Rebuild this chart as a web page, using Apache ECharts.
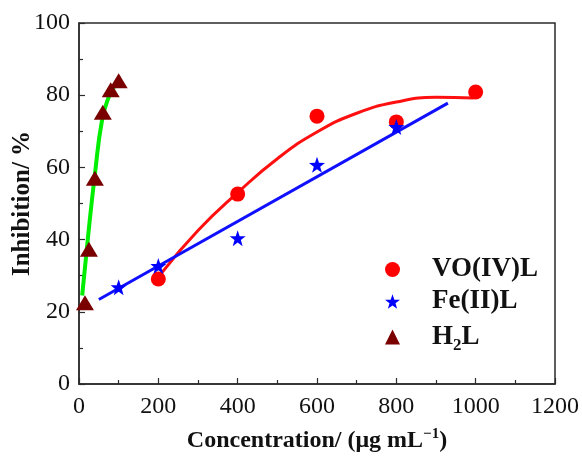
<!DOCTYPE html>
<html>
<head>
<meta charset="utf-8">
<script src="https://cdn.jsdelivr.net/npm/echarts@6/dist/echarts.min.js"></script>
<style>
  html, body { margin: 0; padding: 0; background: #fff; }
  #chart { width: 582px; height: 458px; }
</style>
</head>
<body>
<div id="chart"></div>
<script>
// Measured inhibition (%) versus concentration (µg/mL)
var voConc = [200, 400, 600, 800, 1000];
var voInhib = [29.1, 52.6, 74.2, 72.6, 80.9];

var feConc = [100, 200, 400, 600, 800];
var feInhib = [26.8, 32.7, 40.4, 60.7, 71.2];

var h2lConc = [15, 25, 40, 60, 80, 100];
var h2lInhib = [22.5, 37.3, 57, 75.3, 81.5, 84];

// Fitted trend curves
var voFitX = [208, 300, 400, 500, 600, 700, 800, 900, 995];
var voFitY = [30.7, 42.5, 53, 62.4, 69.8, 75, 78.1, 79.4, 79.2];

var feFitX = [50, 930];
var feFitY = [23.4, 77.8];

var h2lFitX = [8, 23, 40, 58, 75, 90, 103];
var h2lFitY = [24.5, 41, 58, 73, 79.5, 82.5, 83.8];

// Axis ticks
var xTicks = [0, 200, 400, 600, 800, 1000, 1200];
var yTicks = [0, 20, 40, 60, 80, 100];

function pairs(xs, ys) {
  return xs.map(function (x, i) { return [x, ys[i]]; });
}

var STAR = 'path://M50,0 L61.8,33.8 L97.6,34.5 L69,56.2 L79.4,90.5 L50,70 L20.6,90.5 L31,56.2 L2.4,34.5 L38.2,33.8 Z';
var SERIF = '"Liberation Serif", "Times New Roman", serif';
var AXIS_COLOR = '#2b2b2b';

var chart = echarts.init(document.getElementById('chart'), null, { renderer: 'canvas' });

var axisCommon = {
  axisLine: { show: true, lineStyle: { color: AXIS_COLOR, width: 1.5 } },
  axisTick: { show: true, inside: true, length: 6, lineStyle: { color: AXIS_COLOR, width: 1.2 } },
  minorTick: { show: true, splitNumber: 2, length: 4, lineStyle: { color: AXIS_COLOR, width: 1.2 } },
  splitLine: { show: false },
  axisLabel: {
    color: '#111', fontFamily: SERIF, fontSize: 24,
    formatter: function (v) { return String(v); }
  }
};

chart.setOption({
  animation: false,
  backgroundColor: '#ffffff',
  grid: {
    left: 79, right: 27, top: 23, bottom: 74,
    outerBoundsMode: 'none',
    containLabel: false,
    show: true, borderColor: AXIS_COLOR, borderWidth: 1.5, backgroundColor: 'transparent'
  },
  xAxis: Object.assign({}, axisCommon, {
    type: 'value',
    min: xTicks[0], max: xTicks[xTicks.length - 1], interval: xTicks[1] - xTicks[0],
    name: 'Concentration/ (μg mL{sup|−1})',
    nameLocation: 'middle',
    nameMoveOverlap: false,
    nameGap: 43,
    nameTextStyle: {
      fontFamily: SERIF, fontSize: 24, fontWeight: 'bold', color: '#111',
      lineHeight: 27,
      rich: {
        sup: { fontFamily: SERIF, fontSize: 15, fontWeight: 'bold', color: '#111', verticalAlign: 'top', lineHeight: 15 }
      }
    },
    axisLabel: Object.assign({}, axisCommon.axisLabel, { margin: 11 })
  }),
  yAxis: Object.assign({}, axisCommon, {
    type: 'value',
    min: yTicks[0], max: yTicks[yTicks.length - 1], interval: yTicks[1] - yTicks[0],
    name: 'Inhibition/ %',
    nameLocation: 'middle',
    nameRotate: 90,
    nameMoveOverlap: false,
    nameGap: 44,
    nameTextStyle: { fontFamily: SERIF, fontSize: 25, fontWeight: 'bold', color: '#111' },
    axisLabel: Object.assign({}, axisCommon.axisLabel, { margin: 9 })
  }),
  legend: {
    data: ['VO(IV)L', 'Fe(II)L', 'H2L'],
    orient: 'vertical',
    left: 380,
    top: 251,
    itemWidth: 15,
    itemHeight: 15,
    itemGap: 5,
    formatter: function (name) {
      if (name === 'H2L') return '{g|}{b|H}{s|2}{b|L}';
      return '{g|}{b|' + name + '}';
    },
    textStyle: {
      fontFamily: SERIF, fontSize: 27, fontWeight: 'bold', color: '#111', lineHeight: 27,
      rich: {
        g: { width: 27 },
        b: { fontFamily: SERIF, fontSize: 27, fontWeight: 'bold', color: '#111', lineHeight: 27 },
        s: { fontFamily: SERIF, fontSize: 17, fontWeight: 'bold', color: '#111', lineHeight: 12, padding: [17, 0, 0, 0] }
      }
    }
  },
  series: [
    {
      name: 'VO(IV)L fit', type: 'line', data: pairs(voFitX, voFitY),
      smooth: true, showSymbol: false, symbol: 'none',
      lineStyle: { color: '#ff1010', width: 3 }, z: 2
    },
    {
      name: 'Fe(II)L fit', type: 'line', data: pairs(feFitX, feFitY),
      showSymbol: false, symbol: 'none',
      lineStyle: { color: '#1010ff', width: 3 }, z: 2
    },
    {
      name: 'H2L fit', type: 'line', data: pairs(h2lFitX, h2lFitY),
      smooth: true, showSymbol: false, symbol: 'none',
      lineStyle: { color: '#00ee00', width: 4 }, z: 2
    },
    {
      name: 'VO(IV)L', type: 'scatter', data: pairs(voConc, voInhib),
      symbol: 'circle', symbolSize: 15,
      itemStyle: { color: '#ff0000', opacity: 1 }, z: 3
    },
    {
      name: 'Fe(II)L', type: 'scatter', data: pairs(feConc, feInhib),
      symbol: STAR, symbolSize: 16,
      itemStyle: { color: '#0000ff', opacity: 1 }, z: 4
    },
    {
      name: 'H2L', type: 'scatter', data: pairs(h2lConc, h2lInhib),
      symbol: 'triangle', symbolSize: [18, 15],
      itemStyle: { color: '#7a0000', opacity: 1 }, z: 4
    }
  ]
});
</script>
</body>
</html>
